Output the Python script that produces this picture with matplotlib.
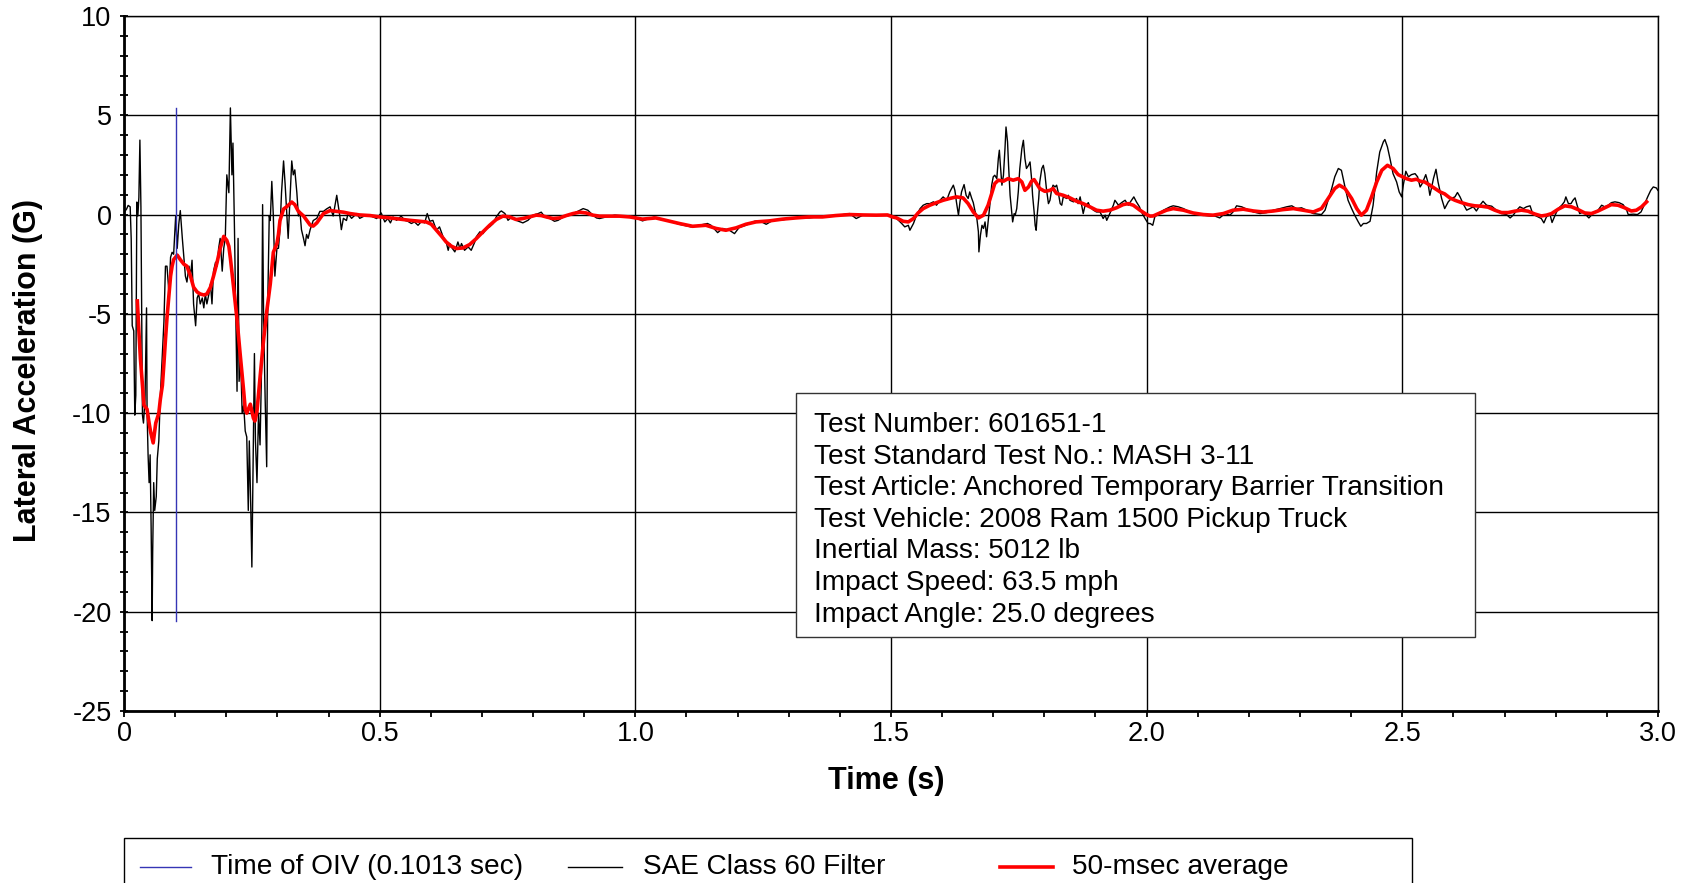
import matplotlib
matplotlib.use("Agg")
import matplotlib.pyplot as plt
from matplotlib.patches import Rectangle
from matplotlib.lines import Line2D
from matplotlib.ticker import MultipleLocator

plt.rcParams['font.family'] = ['Liberation Sans', 'DejaVu Sans']
plt.rcParams['axes.unicode_minus'] = False

# SAE Class 60 filtered lateral acceleration (time s, accel G)
t_sae = [0.000, 0.005, 0.008, 0.012, 0.014, 0.016, 0.019, 0.021, 0.023, 0.025, 0.027, 0.029, 0.031, 0.033,
         0.036, 0.038, 0.041, 0.044, 0.045, 0.047, 0.049, 0.051, 0.053, 0.055, 0.056, 0.058, 0.060, 0.063,
         0.065, 0.068, 0.071, 0.075, 0.078, 0.081, 0.084, 0.088, 0.091, 0.094, 0.097, 0.101, 0.104, 0.107,
         0.110, 0.114, 0.117, 0.120, 0.123, 0.127, 0.130, 0.133, 0.136, 0.140, 0.143, 0.146, 0.149, 0.153,
         0.156, 0.159, 0.162, 0.166, 0.169, 0.172, 0.175, 0.179, 0.182, 0.185, 0.188, 0.192, 0.195, 0.198,
         0.201, 0.205, 0.208, 0.211, 0.213, 0.216, 0.218, 0.221, 0.223, 0.225, 0.228, 0.231, 0.234, 0.237,
         0.240, 0.243, 0.245, 0.248, 0.250, 0.252, 0.255, 0.257, 0.260, 0.263, 0.266, 0.269, 0.271, 0.273,
         0.276, 0.279, 0.281, 0.284, 0.286, 0.289, 0.292, 0.295, 0.299, 0.302, 0.305, 0.308, 0.312, 0.315,
         0.318, 0.321, 0.325, 0.328, 0.331, 0.334, 0.338, 0.341, 0.344, 0.347, 0.351, 0.354, 0.357, 0.360,
         0.364, 0.367, 0.370, 0.377, 0.383, 0.390, 0.396, 0.403, 0.409, 0.416, 0.422, 0.425, 0.429, 0.435,
         0.438, 0.445, 0.455, 0.461, 0.474,
         0.480, 0.487, 0.494, 0.503, 0.510, 0.516, 0.521, 0.526, 0.533, 0.542, 0.549, 0.555, 0.562, 0.568,
         0.575, 0.582, 0.588, 0.593, 0.598, 0.604, 0.611, 0.617, 0.624, 0.630, 0.634, 0.637, 0.640, 0.647,
         0.653, 0.657, 0.660, 0.666, 0.673, 0.679, 0.686, 0.689, 0.696, 0.702, 0.709, 0.715, 0.722, 0.728,
         0.735, 0.738, 0.745, 0.751, 0.758, 0.767, 0.780, 0.790, 0.800, 0.810, 0.816, 0.823, 0.833, 0.842,
         0.849, 0.859, 0.872, 0.885, 0.898, 0.907, 0.917, 0.924, 0.930, 0.943, 0.960, 0.976, 0.989, 1.002,
         1.014, 1.027, 1.037, 1.050, 1.066, 1.086, 1.109, 1.125, 1.141, 1.148, 1.161, 1.171, 1.184, 1.194,
         1.203, 1.216, 1.233, 1.243, 1.256, 1.269, 1.288, 1.301, 1.321, 1.340, 1.360, 1.379, 1.399, 1.419,
         1.432, 1.445, 1.471, 1.497,
         1.501, 1.511, 1.521, 1.527, 1.534, 1.537, 1.544, 1.550, 1.557, 1.563, 1.570, 1.576, 1.583, 1.589,
         1.596, 1.602, 1.609, 1.615, 1.622, 1.625, 1.628, 1.632, 1.635, 1.638, 1.643, 1.647, 1.651, 1.654,
         1.658, 1.661, 1.664, 1.668, 1.671, 1.672, 1.675, 1.678, 1.681, 1.684, 1.687, 1.690, 1.694, 1.697,
         1.700, 1.703, 1.707, 1.710, 1.712, 1.714, 1.717, 1.720, 1.723, 1.725, 1.728, 1.730, 1.733, 1.736,
         1.738, 1.741, 1.743, 1.746, 1.749, 1.752, 1.756, 1.759, 1.762, 1.765, 1.769, 1.772, 1.775, 1.777,
         1.780, 1.782, 1.784, 1.786, 1.789, 1.791, 1.795, 1.798, 1.801, 1.804, 1.808, 1.811, 1.814, 1.817,
         1.821, 1.824, 1.827, 1.831, 1.834, 1.837, 1.844, 1.847, 1.850, 1.857, 1.863, 1.866, 1.870, 1.873,
         1.876, 1.879, 1.886, 1.889, 1.896, 1.902, 1.909, 1.915, 1.919, 1.922, 1.928, 1.935, 1.938, 1.945,
         1.951, 1.958, 1.964, 1.975, 1.980, 1.986, 1.990, 1.997, 2.003,
         2.007, 2.012, 2.016, 2.023, 2.033, 2.046, 2.052, 2.062, 2.072, 2.085, 2.098, 2.111, 2.124, 2.134,
         2.143, 2.153, 2.163, 2.169, 2.176, 2.186, 2.196, 2.209, 2.222, 2.235, 2.248, 2.261, 2.274, 2.284,
         2.293, 2.303, 2.313, 2.326, 2.342, 2.349, 2.355, 2.362, 2.368, 2.375, 2.381, 2.388, 2.394, 2.401,
         2.407, 2.414, 2.419, 2.424, 2.430, 2.437, 2.443, 2.450, 2.456, 2.463, 2.466, 2.471, 2.476, 2.482,
         2.489, 2.494, 2.499,
         2.502, 2.507, 2.512, 2.518, 2.525, 2.530, 2.535, 2.539, 2.543, 2.546, 2.550, 2.554, 2.557, 2.561,
         2.566, 2.570, 2.577, 2.583, 2.590, 2.596, 2.603, 2.608, 2.613, 2.619, 2.626, 2.632, 2.639, 2.645,
         2.652, 2.658, 2.665, 2.675, 2.684, 2.694, 2.704, 2.711, 2.717, 2.724, 2.730, 2.737, 2.743, 2.750,
         2.754, 2.759, 2.766, 2.772, 2.777, 2.782, 2.789, 2.793, 2.799, 2.805, 2.812, 2.817, 2.820, 2.825,
         2.830, 2.834, 2.838, 2.842, 2.847, 2.854, 2.860, 2.865, 2.870, 2.877, 2.883, 2.890, 2.896, 2.903,
         2.909, 2.916, 2.924, 2.932, 2.939, 2.942, 2.952, 2.960, 2.967, 2.973, 2.980, 2.986, 2.991, 2.997,
         3.000]
g_sae = [0.10, 0.28, 0.46, 0.39, -1.23, -5.6, -5.86, -10.1, -9.1, 0.63, -0.07, 0.86, 3.75, 0.39,
         -10.1, -10.5, -9.3, -4.7, -9.9, -12.1, -13.5, -12.1, -15.8, -20.45, -17.0, -13.5, -14.9, -14.2,
         -12.3, -11.4, -9.1, -7.0, -5.4, -2.6, -2.6, -4.0, -2.15, -1.9, -2.0, -0.07, -1.7, -0.5,
         0.2, -1.2, -2.15, -3.1, -3.4, -2.6, -3.1, -2.3, -4.5, -5.6, -4.2, -4.0, -4.5, -4.2,
         -4.7, -4.0, -4.5, -4.0, -3.5, -4.5, -2.85, -2.4, -2.6, -1.7, -1.2, -2.85, -1.7, -1.2,
         2.0, 1.1, 5.37, 2.0, 3.6, -0.76, -4.2, -8.9, -1.2, -8.4, -7.2, -10.0, -9.6, -10.9,
         -11.2, -14.9, -11.4, -14.9, -17.75, -13.5, -7.0, -11.4, -13.5, -10.0, -11.6, -7.7, 0.5, -5.4,
         -9.3, -12.7, -4.5, -0.07, -0.3, 1.67, -0.07, -3.1, -1.7, -1.7, -0.76, 1.1, 2.7, 1.55,
         0.16, -1.2, 1.1, 2.7, 2.0, 2.25, 1.1, -0.07, 0.16, -0.76, -1.2, -1.57, -1.0, -1.2,
         -0.76, -0.53, -0.3, -0.19, 0.16, 0.16, 0.28, 0.39, -0.07, 0.97, -0.07, -0.76, -0.19, -0.3,
         0.05, -0.19, 0.05, -0.19, -0.02,
         -0.03, -0.12, -0.20, 0.08, -0.37, -0.20, -0.42, -0.12, -0.29, -0.08, -0.29, -0.34, -0.45, -0.37,
         -0.54, -0.34, -0.42, 0.05, -0.34, -0.29, -0.79, -0.62, -1.12, -1.38, -1.80, -1.46, -1.63, -1.88,
         -1.38, -1.71, -1.46, -1.80, -1.63, -1.80, -1.38, -1.12, -0.87, -0.96, -0.70, -0.62, -0.45, -0.12,
         0.13, 0.18, 0.05, -0.29, -0.12, -0.29, -0.42, -0.29, -0.03, 0.05, 0.12, -0.12, -0.20, -0.34,
         -0.29, -0.12, -0.03, 0.13, 0.30, 0.22, -0.03, -0.17, -0.20, -0.12, -0.03, -0.08, -0.08, -0.17,
         -0.32, -0.20, -0.12, -0.25, -0.32, -0.49, -0.62, -0.54, -0.45, -0.54, -0.91, -0.70, -0.79, -0.96,
         -0.65, -0.54, -0.34, -0.32, -0.49, -0.29, -0.27, -0.20, -0.15, -0.17, -0.10, -0.08, -0.03, 0.05,
         -0.20, -0.03, -0.03, 0.00,
         -0.03, -0.20, -0.45, -0.62, -0.54, -0.79, -0.45, -0.03, 0.30, 0.47, 0.55, 0.55, 0.64, 0.47,
         0.72, 0.89, 0.72, 1.14, 1.48, 1.22, 0.64, -0.03, 0.64, 1.14, 1.51, 0.97, 0.81, 1.14,
         0.81, 0.60, 0.22, -0.20, -0.87, -1.88, -1.04, -0.54, -0.70, -0.37, -1.12, -0.37, 0.64, 1.48,
         1.90, 1.98, 1.81, 2.82, 3.24, 2.48, 1.48, 1.98, 3.32, 4.41, 3.66, 2.48, 0.97, 0.13,
         -0.37, 0.05, -0.03, 0.30, 1.14, 2.32, 3.32, 3.74, 2.82, 2.32, 2.48, 2.65, 1.81, 0.97,
         0.13, -0.54, -0.79, -0.03, 0.81, 1.64, 2.32, 2.48, 2.06, 1.31, 0.55, 0.72, 1.22, 1.48,
         1.39, 1.48, 1.14, 0.55, 0.47, 0.89, 0.81, 0.97, 0.72, 0.64, 0.81, 0.55, 0.89, 0.47,
         0.05, 0.39, 0.60, 0.39, 0.22, 0.13, 0.13, -0.20, -0.03, -0.29, 0.05, 0.47, 0.72, 0.47,
         0.60, 0.72, 0.47, 0.89, 0.64, 0.39, 0.13, -0.20, -0.45,
         -0.45, -0.54, -0.12, 0.05, 0.22, 0.39, 0.44, 0.39, 0.30, 0.13, 0.02, -0.03, -0.07, -0.08,
         -0.17, 0.05, -0.03, 0.13, 0.44, 0.39, 0.27, 0.13, 0.05, 0.10, 0.22, 0.30, 0.39, 0.44,
         0.30, 0.34, 0.22, 0.05, 0.00, 0.22, 0.72, 1.31, 1.90, 2.32, 2.23, 1.39, 0.72, 0.30,
         -0.03, -0.37, -0.59, -0.45, -0.45, -0.34, 0.47, 2.15, 3.15, 3.66, 3.78, 3.41, 2.82, 2.06,
         1.64, 1.14, 0.89,
         1.48, 2.18, 1.90, 2.01, 2.06, 1.90, 1.39, 1.56, 1.81, 2.01, 1.64, 0.97, 1.31, 1.81,
         2.28, 1.64, 0.81, 0.30, 0.64, 0.81, 0.89, 1.11, 0.89, 0.55, 0.22, 0.30, 0.39, 0.18,
         0.47, 0.67, 0.47, 0.42, 0.22, 0.05, 0.00, -0.17, -0.03, 0.22, 0.39, 0.30, 0.39, 0.44,
         0.13, -0.03, -0.12, -0.20, -0.42, -0.12, 0.00, -0.40, -0.03, 0.30, 0.47, 0.64, 0.89, 0.55,
         0.55, 0.72, 0.84, 0.47, 0.05, 0.13, -0.03, -0.17, -0.03, 0.13, 0.22, 0.47, 0.39, 0.47,
         0.60, 0.64, 0.60, 0.50, 0.22, 0.00, 0.02, 0.00, 0.13, 0.47, 0.89, 1.22, 1.39, 1.34,
         1.22]

# 50-msec moving average (time s, accel G)
t_avg = [0.026, 0.029, 0.032, 0.036, 0.039, 0.045, 0.049, 0.052, 0.057, 0.062, 0.068, 0.071, 0.075, 0.078,
         0.081, 0.084, 0.088, 0.091, 0.094, 0.097, 0.104, 0.110, 0.117, 0.123, 0.130, 0.136, 0.143, 0.149,
         0.156, 0.162, 0.169, 0.175, 0.182, 0.188, 0.195, 0.201, 0.205, 0.208, 0.214, 0.221, 0.227, 0.234,
         0.237, 0.240, 0.247, 0.253, 0.256, 0.260, 0.266, 0.273, 0.279, 0.286, 0.292, 0.299, 0.302, 0.305,
         0.312, 0.318, 0.328, 0.334, 0.341, 0.351, 0.364, 0.370, 0.377, 0.390, 0.403, 0.416, 0.429, 0.442,
         0.461, 0.481,
         0.500, 0.520, 0.539, 0.559, 0.578, 0.591, 0.601, 0.611, 0.621, 0.630, 0.640, 0.650, 0.663, 0.676,
         0.689, 0.702, 0.715, 0.728, 0.741, 0.754, 0.767, 0.780, 0.793, 0.806, 0.816, 0.826, 0.839, 0.852,
         0.865, 0.878, 0.891, 0.904, 0.917, 0.930, 0.950, 0.969, 0.989,
         1.014, 1.040, 1.060, 1.086, 1.112, 1.138, 1.158, 1.177, 1.197, 1.216, 1.236, 1.262, 1.288, 1.314,
         1.340, 1.366, 1.392, 1.419, 1.445, 1.471, 1.493, 1.503,
         1.511, 1.524, 1.534, 1.544, 1.553, 1.563, 1.576, 1.589, 1.602, 1.615, 1.628, 1.641, 1.651, 1.661,
         1.671, 1.681, 1.690, 1.697, 1.703, 1.710, 1.720, 1.729, 1.739, 1.749, 1.756, 1.762, 1.769, 1.775,
         1.780, 1.785, 1.791, 1.801, 1.811, 1.817, 1.824, 1.837, 1.850, 1.863, 1.876, 1.889, 1.902, 1.915,
         1.928, 1.941, 1.954, 1.964, 1.974, 1.987, 2.000, 2.007,
         2.013, 2.026, 2.039, 2.052, 2.072, 2.091, 2.111, 2.130, 2.150, 2.169, 2.189, 2.209, 2.228, 2.248,
         2.267, 2.287, 2.306, 2.326, 2.342, 2.355, 2.368, 2.377, 2.388, 2.401, 2.411, 2.420, 2.430, 2.440,
         2.450, 2.460, 2.471, 2.482, 2.492,
         2.508, 2.518, 2.528, 2.535, 2.544, 2.554, 2.564, 2.574, 2.583, 2.593, 2.603, 2.616, 2.629, 2.642,
         2.655, 2.668, 2.681, 2.694, 2.707, 2.720, 2.733, 2.746, 2.759, 2.772, 2.782, 2.792, 2.805, 2.818,
         2.831, 2.844, 2.857, 2.870, 2.883, 2.896, 2.909, 2.922, 2.935, 2.948, 2.958, 2.968, 2.978]
g_avg = [-4.35, -5.86, -7.25, -8.6, -9.6, -9.8, -10.5, -10.95, -11.5, -10.5, -10.0, -9.3, -8.6, -7.5,
         -6.3, -5.2, -4.0, -3.1, -2.6, -2.27, -2.04, -2.27, -2.5, -2.6, -3.1, -3.66, -3.9, -4.0,
         -4.05, -4.0, -3.66, -3.1, -2.4, -1.7, -1.1, -1.3, -1.6, -2.2, -3.6, -5.3, -7.0, -8.9,
         -9.8, -10.0, -9.55, -10.25, -10.4, -9.9, -8.2, -6.3, -4.9, -3.5, -1.9, -1.46, -1.0, -0.3,
         0.28, 0.39, 0.63, 0.5, 0.16, -0.07, -0.53, -0.58, -0.42, 0.05, 0.2, 0.16, 0.12, 0.05,
         -0.02, -0.05,
         -0.12, -0.17, -0.23, -0.29, -0.34, -0.37, -0.49, -0.79, -1.09, -1.38, -1.59, -1.71, -1.68, -1.51,
         -1.21, -0.87, -0.54, -0.25, -0.08, -0.12, -0.25, -0.20, -0.12, -0.03, -0.05, -0.12, -0.20, -0.17,
         -0.05, 0.05, 0.12, 0.08, -0.03, -0.08, -0.08, -0.08, -0.12,
         -0.23, -0.17, -0.29, -0.45, -0.59, -0.54, -0.70, -0.79, -0.67, -0.49, -0.37, -0.32, -0.23, -0.17,
         -0.12, -0.12, -0.05, 0.00, -0.02, -0.03, -0.02, -0.12,
         -0.17, -0.34, -0.37, -0.20, 0.08, 0.30, 0.47, 0.60, 0.72, 0.81, 0.89, 0.84, 0.55, 0.13,
         -0.17, -0.03, 0.47, 1.06, 1.56, 1.73, 1.68, 1.81, 1.73, 1.81, 1.64, 1.22, 1.39, 1.68,
         1.76, 1.56, 1.31, 1.17, 1.22, 1.31, 1.06, 0.97, 0.84, 0.67, 0.55, 0.39, 0.22, 0.17,
         0.22, 0.34, 0.50, 0.55, 0.47, 0.22, 0.00, -0.08,
         -0.07, 0.08, 0.22, 0.30, 0.22, 0.08, 0.00, -0.03, 0.05, 0.22, 0.27, 0.18, 0.13, 0.18,
         0.25, 0.30, 0.22, 0.13, 0.30, 0.81, 1.31, 1.48, 1.31, 0.81, 0.30, -0.03, 0.22, 0.89,
         1.64, 2.23, 2.48, 2.32, 2.01,
         1.81, 1.73, 1.78, 1.68, 1.64, 1.48, 1.31, 1.14, 1.04, 0.84, 0.72, 0.60, 0.50, 0.44,
         0.42, 0.37, 0.22, 0.10, 0.10, 0.17, 0.22, 0.17, 0.03, -0.07, -0.03, 0.05, 0.27, 0.44,
         0.39, 0.25, 0.08, 0.05, 0.18, 0.34, 0.50, 0.47, 0.34, 0.18, 0.22, 0.39, 0.64]

oiv_time = 0.1013

x_ticks = [0, 0.5, 1.0, 1.5, 2.0, 2.5, 3.0]
x_tick_labels = ['0', '0.5', '1.0', '1.5', '2.0', '2.5', '3.0']
y_ticks = [-25, -20, -15, -10, -5, 0, 5, 10]

info_lines = ['Test Number: 601651-1',
              'Test Standard Test No.: MASH 3-11',
              'Test Article: Anchored Temporary Barrier Transition',
              'Test Vehicle: 2008 Ram 1500 Pickup Truck',
              'Inertial Mass: 5012 lb',
              'Impact Speed: 63.5 mph',
              'Impact Angle: 25.0 degrees']

legend_labels = ['Time of OIV (0.1013 sec)', 'SAE Class 60 Filter', '50-msec average']
legend_colors = ['#3535b5', 'black', '#ff0000']
legend_widths = [1.0, 1.0, 2.6]

fig = plt.figure(figsize=(16.9, 8.83), dpi=100)
ax = fig.add_axes([0.0734, 0.1948, 0.9076, 0.7871])

ax.plot(t_sae, g_sae, color='black', lw=1.0, zorder=3)
ax.plot(t_avg, g_avg, color='#ff0000', lw=2.6, zorder=4)
ax.plot([oiv_time, oiv_time], [min(g_sae), max(g_sae)], color=legend_colors[0], lw=1.0, zorder=5)

ax.set_xlim(0, 3.0)
ax.set_ylim(-25, 10)
ax.set_xticks(x_ticks)
ax.set_xticklabels(x_tick_labels)
ax.set_yticks(y_ticks)
ax.xaxis.set_minor_locator(MultipleLocator(0.1))
ax.yaxis.set_minor_locator(MultipleLocator(1))
ax.grid(which='major', color='black', lw=1.0)
ax.set_axisbelow(True)

ax.tick_params(axis='x', which='both', direction='out', length=4, width=1.3, labelsize=19.5, pad=3)
ax.tick_params(axis='y', which='both', direction='inout', length=6, width=1.3, labelsize=19.5, pad=6)
for side in ['left', 'bottom']:
    ax.spines[side].set_linewidth(2.0)
for side in ['top', 'right']:
    ax.spines[side].set_linewidth(1.0)

ax.set_xlabel('Time (s)', fontsize=22, fontweight='bold')
ax.set_ylabel('Lateral Acceleration (G)', fontsize=22, fontweight='bold')
ax.xaxis.set_label_coords(0.4967, -0.079)
ax.yaxis.set_label_coords(-0.053, 0.49)

# info box
ax.add_patch(Rectangle((0.4378, 0.1065), 0.4432, 0.3505, transform=ax.transAxes,
                       facecolor='white', edgecolor='#333333', lw=1.0, zorder=6))
for i, line in enumerate(info_lines):
    ax.text(0.4498, 0.4115 - i * 0.0455, line, transform=ax.transAxes, fontsize=20.2,
            va='center', ha='left', zorder=7)

# legend box at the bottom
fig.add_artist(Rectangle((0.0734, -0.1), 0.7621, 0.1515, transform=fig.transFigure,
                         facecolor='white', edgecolor='black', lw=1.0))
line_x = [(0.0828, 0.113), (0.336, 0.368), (0.5917, 0.623)]
text_x = [0.1249, 0.3805, 0.6343]
for i in range(3):
    fig.add_artist(Line2D(line_x[i], [0.018, 0.018], color=legend_colors[i],
                          lw=legend_widths[i], transform=fig.transFigure))
    fig.text(text_x[i], 0.018, legend_labels[i], fontsize=20.2, va='center', ha='left')

fig.savefig('out.png', dpi=100)
